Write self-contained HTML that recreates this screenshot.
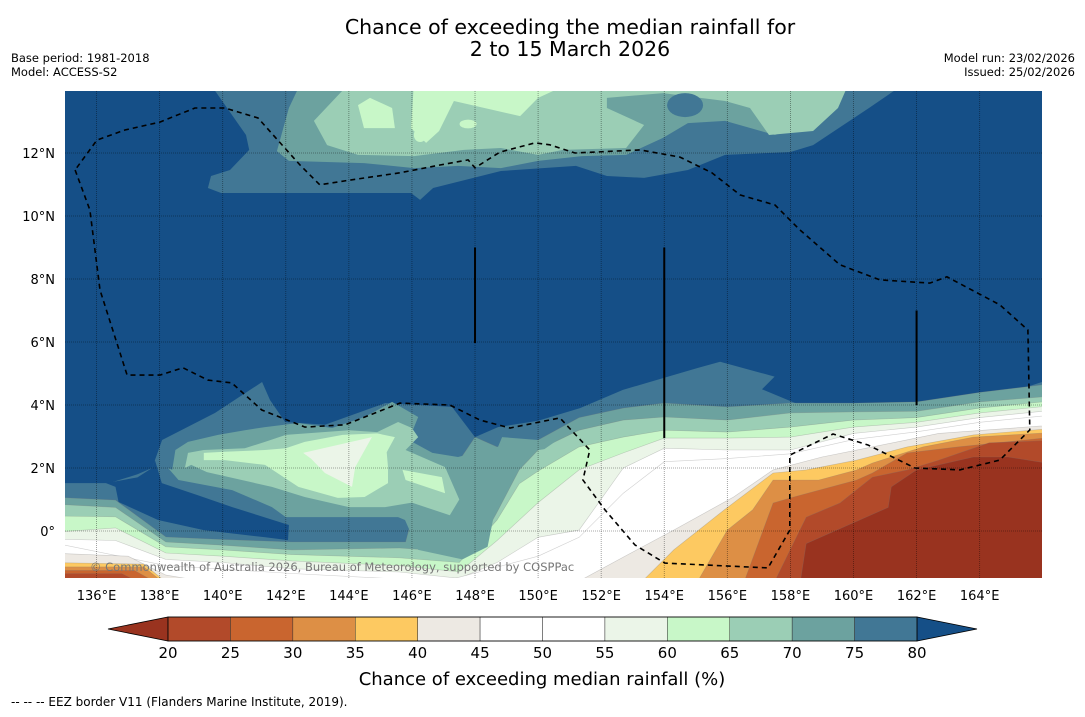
<!DOCTYPE html>
<html><head><meta charset="utf-8"><style>
html,body{margin:0;padding:0;background:#fff;}
body{width:1085px;height:713px;overflow:hidden;font-family:"DejaVu Sans","Liberation Sans",sans-serif;}
svg text{font-family:"DejaVu Sans","Liberation Sans",sans-serif;}
</style></head><body>
<svg id="chart" width="1085" height="713" viewBox="0 0 1085 713" xmlns="http://www.w3.org/2000/svg">
<text x="570" y="34" font-size="20.5" text-anchor="middle">Chance of exceeding the median rainfall for</text>
<text x="570" y="56" font-size="20.5" text-anchor="middle">2 to 15 March 2026</text>
<text x="11" y="62" font-size="11.5">Base period: 1981-2018</text>
<text x="11" y="76" font-size="11.5">Model: ACCESS-S2</text>
<text x="1075" y="62" font-size="11.5" text-anchor="end">Model run: 23/02/2026</text>
<text x="1075" y="76" font-size="11.5" text-anchor="end">Issued: 25/02/2026</text>
<defs><clipPath id="mapclip"><rect x="65" y="91" width="977" height="487"/></clipPath></defs>
<g id="map" clip-path="url(#mapclip)"></g>
<g id="axes"></g>
<g id="cbar"></g>
<text x="542" y="685" font-size="18" text-anchor="middle">Chance of exceeding median rainfall (%)</text>
<text x="11" y="706" font-size="12">--  --  -- EEZ border V11 (Flanders Marine Institute, 2019).</text>
</svg>
<script>
const lonTicks=[136,138,140,142,144,146,148,150,152,154,156,158,160,162,164];
const latTicks=[0,2,4,6,8,10,12];
const cbTicks=[20,25,30,35,40,45,50,55,60,65,70,75,80];
const binColors=["#b24a2a","#c9652f","#dd8f45","#fdc961","#ede9e3","#ffffff","#ffffff","#ebf5e8","#c8f7c8","#9bceb5","#6ca29f","#417795"];
const lowColor="#99331f", highColor="#154f87";
const colorOf={80:"#417795",75:"#6ca29f",70:"#9bceb5",65:"#c8f7c8",60:"#ebf5e8",55:"#ffffff",50:"#ffffff",45:"#ede9e3",40:"#fdc961",35:"#dd8f45",30:"#c9652f",25:"#b24a2a",20:"#99331f"};
const north80=[[139.76,14.3],[139.76,13.97],[140.74,12.57],[140.84,12.1],[140.23,11.46],[139.63,11.27],[139.53,10.89],[139.95,10.73],[145.97,10.73],[146.26,10.51],[146.67,10.89],[148.82,11.43],[151.2,11.59],[152.18,11.27],[153.36,11.21],[154.75,11.46],[155.93,11.94],[157.99,12.03],[158.72,12.25],[160.49,13.43],[161.28,13.97],[161.4,14.3]];
const north75=[[142.51,14.3],[142.1,13.43],[141.72,12.06],[142.1,11.75],[144.48,11.68],[146.07,11.52],[147.46,11.59],[148.82,11.52],[150,11.75],[151.39,11.9],[152.79,11.94],[153.96,12.48],[154.75,12.95],[155.93,13.02],[157.51,12.57],[159.1,13.21],[159.89,14.3]];
const north70=[[144.1,14.3],[142.89,13.02],[143.31,12.25],[144.29,11.94],[146.07,11.9],[147.65,12.1],[148.82,12.16],[150,11.94],[150.79,12.1],[152.79,12.16],[153.36,12.89],[152.18,13.43],[152.18,13.75],[153.96,13.9],[155.93,13.65],[156.72,13.43],[157.32,12.57],[158.72,12.7],[159.51,13.43],[159.89,14.3]];
const north65=[[146.07,14.3],[145.97,12.79],[146.45,12.32],[146.86,12.7],[147.33,13.65],[149.43,13.17],[150,13.75],[151.2,14.3]];
const north65b=[[144.29,13.52],[144.48,12.79],[145.46,12.79],[145.37,13.43],[144.67,13.75]];
const spots=[[147.78,12.92,0.27,0.14,65],[146.26,12.57,0.2,0.22,65],[154.66,13.52,0.57,0.38,80]];
const south80=[[134.5,1.52],[136.4,1.52],[137.3,1.8],[137.76,2.0],[138.08,2.89],[139.76,3.75],[141.25,4.73],[141.5,4.16],[141.98,3.46],[143.24,3.37],[145.15,4.06],[147.27,3.94],[148,2.98],[148.73,3.3],[150,3.5],[151.33,3.9],[152.69,4.48],[155.04,5.17],[155.77,5.37],[157.5,4.9],[157.1,4.5],[158.3,4.0],[161.47,4.0],[164.64,4.3],[166.5,4.9],[166.5,-2],[134.5,-2]];
const pocket=[[136.3,1.52],[136.6,1.4],[136.7,0.92],[137.95,0.35],[139.4,0.03],[141.35,-0.2],[142.07,-0.29],[142.1,0.19],[140.3,0.76],[139.2,1.14],[138.07,1.52],[137.85,2.25],[138.08,2.89],[137.76,2.0],[137.3,1.7]];
const L75=[[134.5,1.08],[136.6,0.98],[138.2,-0.19],[140,-0.27],[142.2,-0.35],[145.8,-0.35],[146.0,0.4],[147.0,1.5],[148,2.98],[148.7,2.67],[150,2.89],[151.3,3.6],[152.7,3.9],[154,4.06],[156,3.94],[158,4.06],[160,4.06],[162,4.1],[164,4.4],[166.5,4.7]];
const L70=[[134.5,0.86],[136.6,0.75],[138.2,-0.35],[140,-0.45],[142.2,-0.6],[145.6,-0.54],[146.5,-0.6],[147.5,-0.8],[148.2,-0.3],[148.7,0.6],[149.4,1.94],[150,2.57],[151.3,3.2],[152.7,3.52],[154,3.62],[156,3.52],[158,3.75],[160,3.78],[162,3.8],[164,4.1],[166.5,4.3]];
const L65=[[134.5,0.48],[136.6,0.45],[138.2,-0.5],[140,-0.6],[142.2,-0.75],[145.6,-0.85],[147.5,-1.0],[148.7,0.35],[149.4,1.5],[150,1.9],[151.3,2.67],[152.7,2.98],[154,3.2],[156,3.14],[158,3.3],[160,3.52],[162,3.6],[164,3.9],[166.5,4.15]];
const L60=[[134.5,-0.05],[136.6,0.1],[138.2,-0.7],[140,-0.8],[142.2,-0.95],[145.6,-1.1],[147.5,-1.3],[148.7,-0.3],[150,0.9],[151.3,1.94],[152.7,2.48],[154,2.95],[156,2.95],[158,2.98],[160,3.3],[162,3.45],[164,3.75],[166.5,4.0]];
const L55=[[134.5,-0.25],[136.6,-0.3],[138.2,-0.9],[140,-1.0],[142.2,-1.2],[145.6,-1.3],[147.5,-1.5],[148.7,-1.0],[150,-0.2],[151.3,0.03],[152.7,2.0],[154,2.63],[156,2.57],[158,2.57],[160,3.1],[162,3.3],[164,3.6],[166.5,3.85]];
const L50=[[134.5,-0.35],[138.2,-1.1],[142.2,-1.35],[147,-1.6],[150,-0.8],[151.3,-0.2],[152.7,1.2],[154,2.2],[156,2.3],[158,2.45],[160,2.9],[162,3.15],[164,3.45],[166.5,3.7]];
const L45=[[134.5,-0.7],[137,-0.8],[138.2,-1.4],[140,-1.7],[151.1,-1.7],[152.7,-0.83],[154.3,0.03],[156.2,1.08],[157.45,1.94],[159,2.35],[160.6,2.67],[162.7,3.1],[166.5,3.37]];
const L40=[[134.5,-1.0],[137.5,-1.05],[138.3,-1.7],[153.2,-1.7],[154.3,-0.6],[155.9,0.67],[157.45,1.84],[158.5,1.94],[160.1,2.25],[161.7,2.67],[163.8,3.05],[166.5,3.27]];
const L35=[[134.5,-1.14],[137.5,-1.14],[138.2,-1.7],[155,-1.7],[156,0.03],[156.8,0.67],[157.45,1.62],[158.9,1.62],[160.1,1.94],[160.6,2.16],[162.2,2.67],[163.8,2.98],[166.5,3.14]];
const L30=[[134.5,-1.25],[137.2,-1.25],[138,-1.7],[156.5,-1.7],[157.45,0.89],[158.1,1.08],[160.1,1.62],[160.6,1.84],[161.7,2.48],[163.3,2.67],[166.5,3.0]];
const L25=[[134.5,-1.35],[136.8,-1.35],[137.5,-1.7],[157.45,-1.7],[158.5,0.44],[159.57,0.89],[160.6,1.71],[161.7,1.94],[162.7,2.25],[164.3,2.8],[166.5,2.89]];
const L20=[[134.5,-1.7],[158.3,-1.7],[158.5,-0.4],[161.1,0.75],[161.2,1.4],[162,1.94],[163.8,2.35],[164.9,2.35],[166.5,2.1]];
const blob75=[[138.4,1.94],[138.5,2.57],[138.9,2.83],[139.85,3.05],[140.7,3.2],[141.34,3.3],[142.4,3.43],[143.47,3.27],[144.5,3.62],[145.37,4.1],[146.2,3.62],[145.9,2.89],[146.65,2.48],[147.46,2.35],[148.73,2.67],[148.86,2.98],[150,2.89],[150.85,3.05],[150.2,2.6],[149,2.4],[148.7,1.0],[148.4,-0.5],[147.6,-0.9],[146.2,-0.6],[145.78,0.35],[145.56,0.44],[142,0.44],[141.56,0.76],[140.3,1.3],[138.6,1.62],[138.27,2.0]];
const blob70=[[138.8,2.0],[138.9,2.48],[139.4,2.57],[140.7,2.63],[141.34,2.83],[142,3.05],[144,3.2],[144.9,3.14],[145.56,3.46],[146,3.27],[146.2,2.98],[145.8,2.57],[147.05,2.03],[147.5,1.0],[147.2,0.5],[146.0,0.9],[145.15,0.76],[144,0.76],[142.6,1.08],[141.56,1.4],[139.5,1.87],[139,2.1]];
const blob65=[[139.4,2.48],[139.98,2.51],[141.34,2.57],[142,2.63],[142.6,2.83],[143.8,3.05],[144.9,3.1],[145.46,2.98],[145.2,2.5],[145.24,2.03],[145.24,1.52],[144.5,1.08],[143.65,1.05],[142.4,1.4],[141.34,2.1],[140.07,2.25],[139.4,2.25]];
const blob65b=[[145.7,1.94],[146.95,1.71],[147.05,1.2],[145.8,1.62]];
const blob60=[[142.55,2.48],[144.73,2.98],[144.2,2.03],[144.1,1.4],[143.24,1.84],[142.8,2.3]];
const eez=[[135.32,11.46],[135.79,10.19],[136.11,7.65],[136.97,4.95],[138.01,4.95],[138.74,5.18],[139.53,4.79],[140.29,4.7],[141.24,3.84],[142.61,3.3],[143.88,3.37],[145.62,4.06],[147.2,4.0],[148.16,3.52],[149.11,3.27],[150.69,3.59],[151.64,2.57],[151.42,1.62],[152.12,0.67],[153.07,-0.44],[154.02,-1.02],[157.29,-1.17],[157.98,0.03],[157.98,2.41],[159.35,3.08],[160.46,2.73],[161.95,2.0],[163.37,1.94],[164.64,2.25],[165.59,3.21],[165.53,6.38],[164.64,7.18],[162.96,8.07],[162.42,7.87],[160.84,7.97],[159.57,8.45],[158.3,9.56],[157.51,10.35],[156.4,10.67],[155.51,11.37],[154.5,11.87],[153.23,12.1],[151.17,12.0],[150.37,12.26],[149.9,12.32],[148.79,12.03],[148.0,11.53],[147.78,11.78],[146.89,11.62],[145.62,11.37],[144.03,11.14],[143.08,10.99],[142.45,11.62],[141.12,13.11],[140.07,13.43],[139.12,13.43],[138.01,12.98],[136.9,12.73],[136.01,12.41],[135.32,11.46]];
const meridianLines=[[148,9.0,5.97],[154,9.0,2.95],[162,7.0,4.0]];

const NS="http://www.w3.org/2000/svg";
const X=lon=>65+(lon-135)*31.54;
const Y=lat=>531-lat*31.5;
const map=document.getElementById('map');
function el(tag,parent){const e=document.createElementNS(NS,tag);parent.appendChild(e);return e;}
function pts(arr){return arr.map(p=>X(p[0]).toFixed(1)+','+Y(p[1]).toFixed(1)).join(' ');}
function poly(arr,fill,name,stroke){const p=el('polygon',map);p.setAttribute('points',pts(arr));p.setAttribute('fill',fill);
if(stroke){p.setAttribute('stroke',stroke);p.setAttribute('stroke-width','0.6');}

return p;}

const bg=el('rect',map);bg.setAttribute('x',65);bg.setAttribute('y',91);bg.setAttribute('width',977);bg.setAttribute('height',487);bg.setAttribute('fill',highColor);



poly(north80,colorOf[80],'north-contour-80');
poly(north75,colorOf[75],'north-contour-75');
poly(north70,colorOf[70],'north-contour-70');
poly(north65,colorOf[65],'north-contour-65');
poly(north65b,colorOf[65],'north-contour-65-island');
spots.forEach(s=>{const e=el('ellipse',map);e.setAttribute('cx',X(s[0]));e.setAttribute('cy',Y(s[1]));e.setAttribute('rx',s[2]*31.54);e.setAttribute('ry',s[3]*31.5);e.setAttribute('fill',colorOf[s[4]]);

});

poly(south80,colorOf[80],'south-contour-80');
poly(pocket,highColor,'south-blue-pocket');
const lines=[[75,L75],[70,L70],[65,L65],[60,L60],[55,L55],[50,L50],[45,L45],[40,L40],[35,L35],[30,L30],[25,L25],[20,L20]];
lines.forEach(([t,l])=>{poly(l.concat([[166.5,-2],[134.5,-2]]),colorOf[t],'south-contour-'+t,'rgba(120,120,120,0.35)');});
poly(blob75,colorOf[75],'blob-contour-75');
poly(blob70,colorOf[70],'blob-contour-70');
poly(blob65,colorOf[65],'blob-contour-65');
poly(blob65b,colorOf[65],'blob-contour-65-island');
poly(blob60,colorOf[60],'blob-contour-60');

lonTicks.forEach(lo=>{const l=el('line',map);l.setAttribute('x1',X(lo));l.setAttribute('x2',X(lo));l.setAttribute('y1',91);l.setAttribute('y2',578);l.setAttribute('stroke','rgba(0,0,0,0.45)');l.setAttribute('stroke-width','0.8');l.setAttribute('stroke-dasharray','1,1');

});
latTicks.forEach(la=>{const l=el('line',map);l.setAttribute('y1',Y(la));l.setAttribute('y2',Y(la));l.setAttribute('x1',65);l.setAttribute('x2',1042);l.setAttribute('stroke','rgba(0,0,0,0.45)');l.setAttribute('stroke-width','0.8');l.setAttribute('stroke-dasharray','1,1');

});
const pl=el('polyline',map);pl.setAttribute('points',pts(eez));pl.setAttribute('fill','none');pl.setAttribute('stroke','#000');pl.setAttribute('stroke-width','1.6');pl.setAttribute('stroke-dasharray','5,4');


meridianLines.forEach(m=>{const l=el('line',map);l.setAttribute('x1',X(m[0]));l.setAttribute('x2',X(m[0]));l.setAttribute('y1',Y(m[1]));l.setAttribute('y2',Y(m[2]));l.setAttribute('stroke','#000');l.setAttribute('stroke-width','2');

});
const cp=el('text',map);cp.textContent='© Commonwealth of Australia 2026, Bureau of Meteorology, supported by COSPPac';cp.setAttribute('x',90);cp.setAttribute('y',571);cp.setAttribute('font-size','11.5');cp.setAttribute('fill','#777');



const axes=document.getElementById('axes');
lonTicks.forEach(lo=>{const t=el('text',axes);t.textContent=lo+'°E';t.setAttribute('x',X(lo));t.setAttribute('y',600);t.setAttribute('font-size','13');t.setAttribute('text-anchor','middle');

});
latTicks.forEach(la=>{const t=el('text',axes);t.textContent=la===0?'0°':la+'°N';t.setAttribute('x',55);t.setAttribute('y',Y(la)+5);t.setAttribute('font-size','13');t.setAttribute('text-anchor','end');

});

const cb=document.getElementById('cbar');
const cx0=168,cw=(917-168)/12,cy=617,ch=24;
const cbX=v=>cx0+(v-20)/5*cw;
const lt=el('polygon',cb);lt.setAttribute('points',`108,${cy+ch/2} ${cx0},${cy} ${cx0},${cy+ch}`);lt.setAttribute('fill',lowColor);lt.setAttribute('stroke','#000');lt.setAttribute('stroke-width','0.8');


const rt=el('polygon',cb);rt.setAttribute('points',`977,${cy+ch/2} 917,${cy} 917,${cy+ch}`);rt.setAttribute('fill',highColor);rt.setAttribute('stroke','#000');rt.setAttribute('stroke-width','0.8');


binColors.forEach((c,i)=>{const r=el('rect',cb);r.setAttribute('x',cbX(cbTicks[i]));r.setAttribute('y',cy);r.setAttribute('width',cw);r.setAttribute('height',ch);r.setAttribute('fill',c);r.setAttribute('stroke','#333');r.setAttribute('stroke-width','0.5');

});
const fr=el('rect',cb);fr.setAttribute('x',cx0);fr.setAttribute('y',cy);fr.setAttribute('width',917-cx0);fr.setAttribute('height',ch);fr.setAttribute('fill','none');fr.setAttribute('stroke','#000');fr.setAttribute('stroke-width','0.8');


cbTicks.forEach(v=>{const t=el('text',cb);t.textContent=v;t.setAttribute('x',cbX(v));t.setAttribute('y',658);t.setAttribute('font-size','15');t.setAttribute('text-anchor','middle');

});
</script>
</body></html>
